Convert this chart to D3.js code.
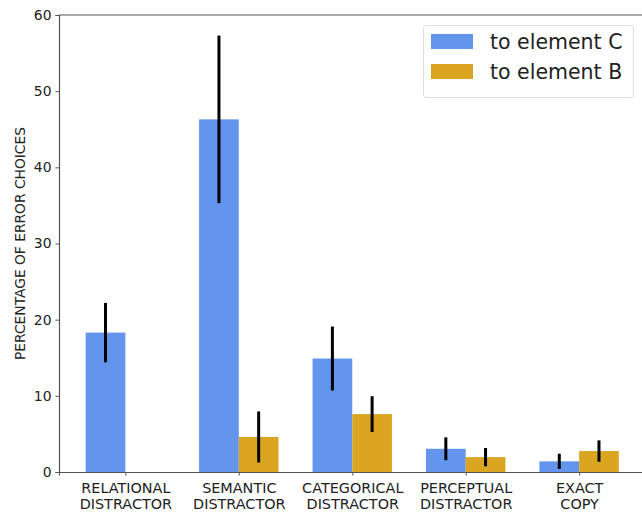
<!DOCTYPE html>
<html>
<head>
<meta charset="utf-8">
<script src="https://cdn.jsdelivr.net/npm/d3@7"></script>
<style>
  html, body { margin: 0; padding: 0; background: #fff; }
  svg { display: block; font-family: "DejaVu Sans", sans-serif; }
</style>
</head>
<body>
<svg id="chart" width="642" height="512"></svg>
<script>
// Error-choice categories (two-line labels)
const categories = [
  ["RELATIONAL", "DISTRACTOR"],
  ["SEMANTIC", "DISTRACTOR"],
  ["CATEGORICAL", "DISTRACTOR"],
  ["PERCEPTUAL", "DISTRACTOR"],
  ["EXACT", "COPY"]
];
// Percentage of error choices, with error bar half-lengths
const toElementC    = [18.3, 46.3, 14.9, 3.05, 1.4];
const toElementCErr = [3.9, 11.0, 4.2, 1.5, 1.0];
const toElementB    = [0, 4.6, 7.6, 1.95, 2.75];
const toElementBErr = [0, 3.35, 2.35, 1.2, 1.4];
const yTicks = [0, 10, 20, 30, 40, 50, 60];
const seriesNames = ["to element C", "to element B"];
const seriesColors = ["#6495ED", "#DAA520"];

const svg = d3.select("#chart");
const plotLeft = 59, plotTop = 15, plotBottom = 472, plotRight = 645.5;
const barW = 0.35;

const x = d3.scaleLinear().domain([-0.585, 4.585]).range([plotLeft, plotRight]);
const y = d3.scaleLinear().domain([0, 60]).range([plotBottom, plotTop]);

const series = [
  { values: toElementC, errs: toElementCErr, offset: -barW, color: seriesColors[0] },
  { values: toElementB, errs: toElementBErr, offset: 0, color: seriesColors[1] }
];

// bars
series.forEach(s => {
  svg.append("g").selectAll("rect")
    .data(s.values.map((v, i) => ({ v, i })))
    .join("rect")
    .attr("x", d => x(d.i + s.offset))
    .attr("width", d => x(d.i + s.offset + barW) - x(d.i + s.offset))
    .attr("y", d => y(d.v))
    .attr("height", d => y(0) - y(d.v))
    .attr("fill", s.color);
});

// error bars
series.forEach(s => {
  svg.append("g").selectAll("line")
    .data(s.values.map((v, i) => ({ v, e: s.errs[i], i })).filter(d => d.e > 0))
    .join("line")
    .attr("x1", d => x(d.i + s.offset + barW / 2))
    .attr("x2", d => x(d.i + s.offset + barW / 2))
    .attr("y1", d => y(d.v - d.e))
    .attr("y2", d => y(d.v + d.e))
    .attr("stroke", "#000")
    .attr("stroke-width", 3);
});

// y axis
const yAxis = svg.append("g")
  .attr("transform", `translate(${plotLeft},0)`)
  .call(d3.axisLeft(y).tickValues(yTicks).tickSize(3.5).tickPadding(4).tickFormat(d3.format("d")));
yAxis.select(".domain").attr("stroke", "#555").attr("stroke-width", 1.2);
yAxis.selectAll(".tick line").attr("stroke", "#555");
yAxis.selectAll(".tick text").attr("font-size", 13.9).attr("fill", "#222")
  .attr("font-family", "DejaVu Sans");

// x axis
const xAxis = svg.append("g")
  .attr("transform", `translate(0,${plotBottom})`)
  .call(d3.axisBottom(x).tickValues(d3.range(categories.length)).tickSize(3.5).tickFormat(""));
xAxis.select(".domain").attr("stroke", "#555").attr("stroke-width", 1.2);
xAxis.selectAll(".tick line").attr("stroke", "#555");
xAxis.selectAll(".tick").each(function(d) {
  const t = d3.select(this).append("text")
    .attr("fill", "#222").attr("font-size", 14.4).attr("text-anchor", "middle")
    .attr("font-family", "DejaVu Sans");
  categories[d].forEach((line, k) => {
    t.append("tspan").attr("x", 0).attr("y", 20.5 + k * 16).text(line);
  });
});

// top spine
svg.append("line")
  .attr("x1", plotLeft).attr("x2", plotRight).attr("y1", plotTop).attr("y2", plotTop)
  .attr("stroke", "#555").attr("stroke-width", 1.2);

// y label
svg.append("text")
  .attr("transform", `translate(25,${(plotTop + plotBottom) / 2}) rotate(-90)`)
  .attr("text-anchor", "middle")
  .attr("font-size", 13.8).attr("fill", "#222")
  .text("PERCENTAGE OF ERROR CHOICES");

// legend
const lg = svg.append("g");
lg.append("rect")
  .attr("x", 423.5).attr("y", 25.5).attr("width", 210).attr("height", 72)
  .attr("rx", 3).attr("fill", "#fff").attr("stroke", "#ddd");
seriesNames.forEach((name, k) => {
  lg.append("rect")
    .attr("x", 431).attr("y", 34 + k * 30).attr("width", 42).attr("height", 15)
    .attr("fill", seriesColors[k]);
  lg.append("text")
    .attr("x", 490).attr("y", 41.5 + k * 30).attr("dy", "0.36em")
    .attr("font-size", 20.5).attr("fill", "#222")
    .text(name);
});
</script>
</body>
</html>
